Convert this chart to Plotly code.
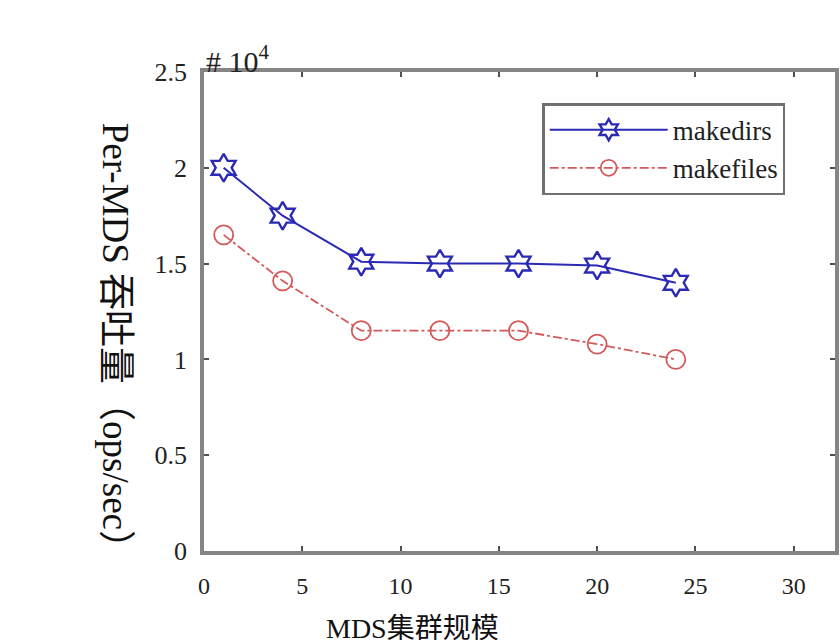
import plotly.graph_objects as go

cluster_sizes = [1, 4, 8, 12, 16, 20, 24]
makedirs = [2.0, 1.75, 1.51, 1.50, 1.50, 1.49, 1.40]
makefiles = [1.65, 1.41, 1.15, 1.15, 1.15, 1.08, 1.00]
x_ticks = [0, 5, 10, 15, 20, 25, 30]
y_ticks = [0, 0.5, 1, 1.5, 2, 2.5]
y_tick_text = ["0", "0.5", "1", "1.5", "2", "2.5"]

FONT = "Liberation Serif, Times New Roman, Noto Sans CJK SC, serif"
BLUE = "#2a2ab4"
RED = "#d45a5a"

fig = go.Figure()
fig.add_trace(go.Scatter(
    x=cluster_sizes, y=makedirs, name="makedirs", mode="lines+markers",
    line=dict(color=BLUE, width=2),
    marker=dict(symbol="hexagram-open", size=21, color=BLUE, line=dict(width=2.4, color=BLUE)),
))
fig.add_trace(go.Scatter(
    x=cluster_sizes, y=makefiles, name="makefiles", mode="lines+markers",
    line=dict(color=RED, width=1.8, dash="dashdot"),
    marker=dict(symbol="circle-open", size=19, color=RED, line=dict(width=1.8, color=RED)),
))

axis_common = dict(
    showline=True, linecolor="#858585", linewidth=3.5, mirror="ticks",
    ticks="inside", ticklen=5, tickcolor="#505050", tickwidth=1.5,
    showgrid=False, zeroline=False,
)

fig.update_layout(
    width=840, height=640,
    margin=dict(l=204, r=5, t=72, b=89, autoexpand=False),
    plot_bgcolor="white", paper_bgcolor="white",
    xaxis=dict(range=[0, 32.1], tickvals=x_ticks, ticklabelstandoff=10,
               tickfont=dict(family=FONT, size=24, color="#222222"), **axis_common),
    yaxis=dict(range=[0, 2.5], tickvals=y_ticks, ticktext=y_tick_text, ticklabelstandoff=8,
               tickfont=dict(family=FONT, size=26, color="#222222"), **axis_common),
    legend=dict(
        x=0.536, y=0.935, xanchor="left", yanchor="top",
        bgcolor="white", bordercolor="#707070", borderwidth=2.5,
        font=dict(family=FONT, size=27, color="#222222"),
        itemwidth=118, tracegroupgap=0,
    ),
    showlegend=True,
)

fig.add_annotation(
    text="# 10<sup>4</sup>", xref="paper", yref="paper", x=0.0, y=1.0,
    xanchor="left", yanchor="bottom", showarrow=False, yshift=-8,
    font=dict(family=FONT, size=30, color="#222222"),
)
fig.add_annotation(
    text="Per-MDS 吞吐量（ops/sec）", xref="paper", yref="paper",
    x=-0.139, y=0.43, xanchor="center", yanchor="middle", textangle=90,
    showarrow=False, font=dict(family=FONT, size=37, color="#111111"),
)
fig.add_annotation(
    text="MDS集群规模", xref="paper", yref="paper",
    x=0.33, y=-0.162, xanchor="center", yanchor="middle",
    showarrow=False, font=dict(family=FONT, size=28, color="#111111"),
)

fig.write_html(
    "out.html",
    config={"displayModeBar": False},
    post_script="document.body.style.margin='0';document.body.style.overflow='hidden';",
)
